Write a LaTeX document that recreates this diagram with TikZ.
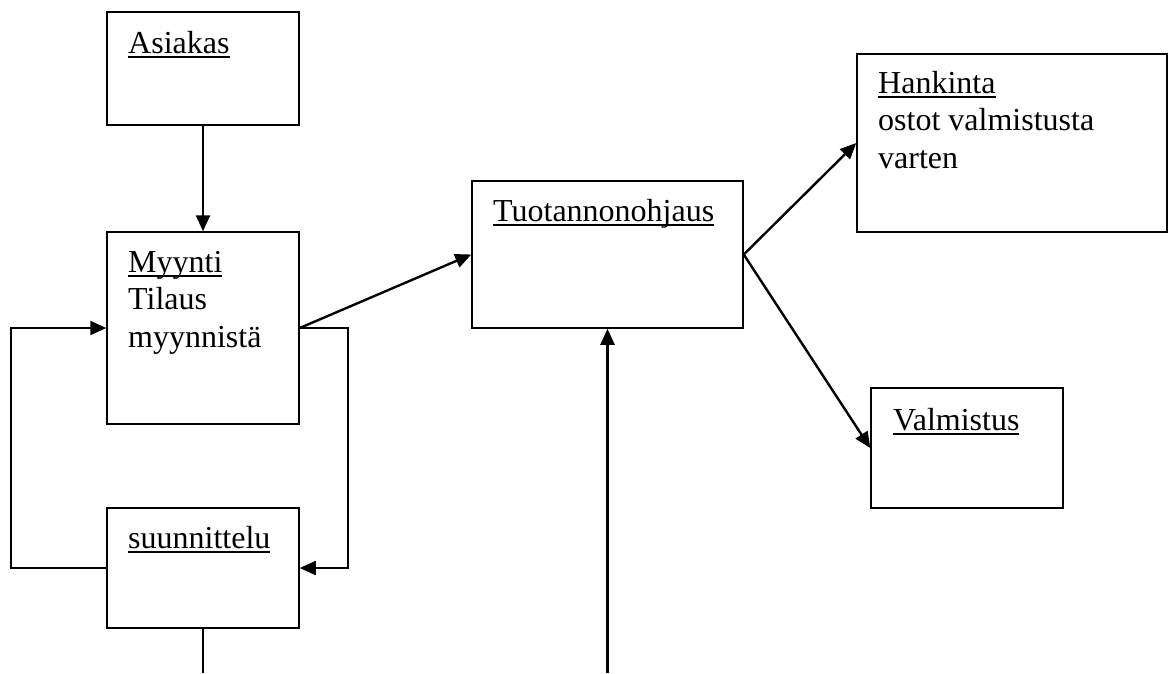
\documentclass[tikz,border=0pt]{standalone}
\usepackage{fontspec}
\setmainfont{Liberation Serif}
\usetikzlibrary{arrows.meta}
\newcommand{\souligne}[1]{\setbox0=\hbox{#1}\rlap{\rule[-4.5pt]{\wd0}{1.8pt}}\box0}

\begin{document}
\begin{tikzpicture}[x=1pt, y=-1pt]
 \tikzstyle{boite}=[rectangle, draw, line width=1.5pt, inner sep=0pt]
 \tikzstyle{texte}=[anchor=base west, inner sep=0pt, align=left, font=\fontsize{32}{37.5}\selectfont]
 \tikzstyle{fleche}=[-{Triangle[length=16pt, width=14pt]}, line width=2.4pt]
 \useasboundingbox (0,0) rectangle (1174,673);
 %
 \node[boite, minimum width=192pt, minimum height=113pt] (Asiakas) at (203, 68.5) {};
 \node[boite, minimum width=192pt, minimum height=192pt] (Myynti) at (203, 328) {};
 \node[boite, minimum width=192pt, minimum height=120pt] (Suunn) at (203, 568) {};
 \node[boite, minimum width=271pt, minimum height=147pt] (Tuot) at (607.5, 254.5) {};
 \node[boite, minimum width=310pt, minimum height=178pt] (Hank) at (1012, 143) {};
 \node[boite, minimum width=192pt, minimum height=120pt] (Valm) at (967, 448) {};
 %
 % multi-line texts sit on the base of their last line
 \node[texte] (AsiakasT) at (128, 53) {\souligne{Asiakas}};
 \node[texte] (MyyntiT) at (128, 347) {\souligne{Myynti}\\Tilaus\\myynnistä};
 \node[texte] (SuunnT) at (128, 548) {\souligne{suunnittelu}};
 \node[texte] (TuotT) at (493, 221) {\souligne{Tuotannonohjaus}};
 \node[texte] (HankT) at (878, 168) {\souligne{Hankinta}\\ostot valmistusta\\varten};
 \node[texte] (ValmT) at (893, 430) {\souligne{Valmistus}};
 %
 \coordinate (SuunnAlas) at (203, 673);
 \coordinate (TuotAlas) at (607.5, 673);
 %%
 \draw[fleche] (Asiakas)--(Myynti);
 \draw[fleche] (Myynti.east)--(Tuot.west);
 \draw[fleche] (Myynti.east)--++(48,0)|-(Suunn.east);
 \draw[fleche] (Suunn.west)--++(-95,0)|-(Myynti.west);
 \draw[fleche] (Tuot.east)--(Hank.west);
 \draw[fleche] (Tuot.east)--(Valm.west);
 \draw[line width=2.4pt] (Suunn.south)--(SuunnAlas);
 \draw[fleche] (TuotAlas)--(Tuot.south);
\end{tikzpicture}
\end{document}
